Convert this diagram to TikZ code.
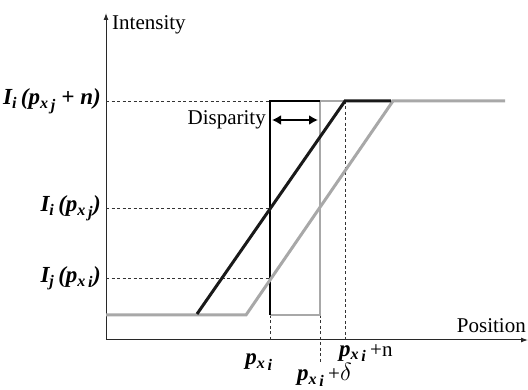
\documentclass[tikz,border=0pt]{standalone}
\usepackage{fontspec}
\setmainfont{Liberation Serif}
\usetikzlibrary{arrows.meta}
\definecolor{lgray}{RGB}{168,168,168}
\definecolor{axgray}{RGB}{40,40,40}
\tikzset{
  axis/.style={draw=axgray, line width=1pt},
  guide/.style={draw=black!80, line width=0.7pt, dash pattern=on 3pt off 2.5pt},
  blackcurve/.style={draw=black!90, line width=3pt},
  graycurve/.style={draw=lgray, line width=3pt},
  blackbox/.style={draw=black, line width=1.2pt},
  graybox/.style={draw=lgray, line width=1.6pt},
  lbl/.style={inner sep=0pt, font=\fontsize{21}{24}\selectfont},
  mlbl/.style={inner sep=0pt, font=\fontsize{23}{26}\selectfont\bfseries\itshape},
}
\begin{document}
\begin{tikzpicture}[x=1pt,y=-1pt]
\useasboundingbox (0,0) rectangle (528,390);
% coordinates
\coordinate (O) at (106,340);
\coordinate (Ytop) at (106,13);
\coordinate (Xend) at (528,340);
\coordinate (hA) at (106,101);
\coordinate (hB) at (106,208);
\coordinate (hC) at (106,278);
\coordinate (bxTL) at (270,101);
\coordinate (bxBL) at (270,315);
\coordinate (bxTR) at (320,101);
\coordinate (bxBR) at (320,315);
\coordinate (bxR2) at (345,101);
\coordinate (pA) at (270,208);
\coordinate (pB) at (270,278);
\coordinate (axA) at (270,340);
\coordinate (axB) at (320,362);
\coordinate (axC) at (345,340);
\coordinate (bk0) at (197,314);
\coordinate (bk1) at (345,101);
\coordinate (bk2) at (391,101);
\coordinate (gy0) at (106,315);
\coordinate (gy1) at (246,315);
\coordinate (gy2) at (393,101);
\coordinate (gy3) at (505,101);
\coordinate (dL) at (272,120);
\coordinate (dR) at (318,120);
% axes
\draw[axis,-{Latex[length=7pt,width=5pt]}] (O) -- (Ytop);
\draw[axis,-{Latex[length=7pt,width=5pt]}] (O) -- (Xend);
% dashed guides
\draw[guide] (hA) -- (bxTL);
\draw[guide] (hB) -- (pA);
\draw[guide] (hC) -- (pB);
\draw[guide] (bxBL) -- (axA);
\draw[guide] (bxBR) -- (axB);
\draw[guide] (bxR2) -- (axC);
% boxes
\draw[graybox] (bxTR) -- (bxR2);
\draw[graybox] (bxBL) -- (bxBR) -- (bxTR);
\draw[blackbox] (bxBL) -- (bxTL) -- (bxTR);
% curves
\draw[graycurve] (gy0) -- (gy1) -- (gy2) -- (gy3);
\draw[blackcurve] (bk0) -- (bk1) -- (bk2);
% disparity arrow
\draw[line width=2.6pt, {Latex[length=9pt,width=10pt]}-{Latex[length=9pt,width=10pt]}] (dL) -- (dR);
% labels
\node[lbl, anchor=west] (tI) at (112,25) {Intensity};
\node[lbl, anchor=east] (tP) at (526,326) {Position};
\node[lbl, anchor=east] (tD) at (266,120) {Disparity};
\node[mlbl, anchor=east] (lA) at (101,101) {I\textsubscript{i}\,(p\textsubscript{x\,\raisebox{-0.25ex}{j}} + n)};
\node[mlbl, anchor=east] (lB) at (101,208) {I\textsubscript{i}\,(p\textsubscript{x\,\raisebox{-0.25ex}{j}})};
\node[mlbl, anchor=east] (lC) at (101,278) {I\textsubscript{j}\,(p\textsubscript{x\,\raisebox{-0.25ex}{i}})};
\node[mlbl] (bA) at (259,362) {p\textsubscript{x\,\raisebox{-0.25ex}{i}}};
\node[mlbl, anchor=west] (bC) at (339,353) {p\textsubscript{x\,\raisebox{-0.25ex}{i}}\,\textmd{\upshape\fontsize{21}{24}\selectfont +n}};
\node[mlbl, anchor=west] (bB) at (297,375) {p\textsubscript{x\,\raisebox{-0.25ex}{i}}\,\textmd{\upshape\fontsize{21}{24}\selectfont +}$\delta$};
\end{tikzpicture}
\end{document}
